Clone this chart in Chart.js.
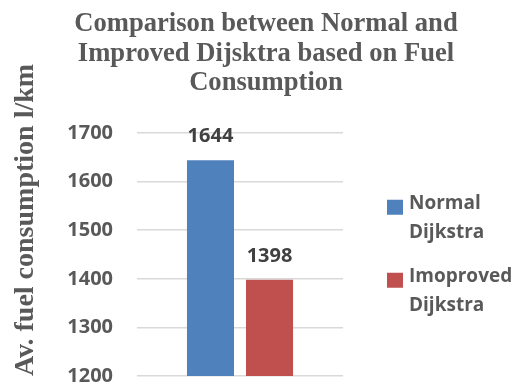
<!DOCTYPE html>
<html>
<head>
<meta charset="utf-8">
<script src="https://cdn.jsdelivr.net/npm/chart.js@4/dist/chart.umd.min.js"></script>
<style>
  html, body { margin: 0; padding: 0; background: #ffffff; }
  #wrap { width: 528px; height: 387px; }
</style>
</head>
<body>
<div id="wrap"><canvas id="c" width="528" height="387"></canvas></div>
<script>
// Chart data
const categories = [''];
const seriesNames = ['Normal Dijkstra', 'Imoproved Dijkstra'];
const normalValues = [1644];
const improvedValues = [1398];
const seriesColors = ['#4f81bd', '#c0504d'];
const titleLines = ['Comparison between Normal and', 'Improved Dijsktra based on Fuel', 'Consumption'];
const yAxisTitle = 'Av. fuel consumption l/km';
const yMin = 1200, yMax = 1700, yStep = 100;

const sansFont = "'Open Sans', 'Liberation Sans', sans-serif";
const serifFont = "'Liberation Serif', 'Times New Roman', serif";
const textGrey = '#595959';

// Title centred across the whole canvas, plus the rotated y-axis caption
const headings = {
  id: 'headings',
  afterDraw(chart) {
    const ctx = chart.ctx;
    ctx.save();
    ctx.font = "bold 26.6px " + serifFont;
    ctx.fillStyle = textGrey;
    ctx.textAlign = 'center';
    ctx.textBaseline = 'alphabetic';
    titleLines.forEach((line, i) => {
      ctx.fillText(line, 266, 31 + i * 29.5);
    });
    ctx.font = "bold 28px " + serifFont;
    ctx.translate(33, 220);
    ctx.rotate(-Math.PI / 2);
    ctx.fillText(yAxisTitle, 0, 0);
    ctx.restore();
  }
};

// Value labels above each bar
const valueLabels = {
  id: 'valueLabels',
  afterDatasetsDraw(chart) {
    const ctx = chart.ctx;
    ctx.save();
    ctx.font = "bold 20px " + sansFont;
    ctx.fillStyle = '#404040';
    ctx.textAlign = 'center';
    ctx.textBaseline = 'alphabetic';
    chart.data.datasets.forEach((ds, di) => {
      const meta = chart.getDatasetMeta(di);
      meta.data.forEach((bar, i) => {
        ctx.fillText(String(ds.data[i]), bar.x, bar.y - 18);
      });
    });
    ctx.restore();
  }
};

// Legend on the right, each name wrapped over two lines
const sideLegend = {
  id: 'sideLegend',
  afterDraw(chart) {
    const ctx = chart.ctx;
    const area = chart.chartArea;
    const x0 = area.right + 44;
    const itemGap = 73;
    const lineGap = 28.5;
    const n = chart.data.datasets.length;
    const mid = (area.top + area.bottom) / 2;
    const firstTop = mid - ((n - 1) * itemGap + lineGap + 16) / 2;
    ctx.save();
    ctx.font = "bold 19px " + sansFont;
    ctx.textAlign = 'left';
    ctx.textBaseline = 'middle';
    chart.data.datasets.forEach((ds, di) => {
      const top = firstTop + di * itemGap;
      ctx.fillStyle = ds.backgroundColor;
      ctx.fillRect(x0, top + 4, 16, 15);
      ctx.fillStyle = textGrey;
      const words = ds.label.split(' ');
      words.forEach((w, li) => {
        ctx.fillText(w, x0 + 22, top + 8 + li * lineGap);
      });
    });
    ctx.restore();
  }
};

new Chart(document.getElementById('c'), {
  type: 'bar',
  data: {
    labels: categories,
    datasets: [
      { label: seriesNames[0], data: normalValues, backgroundColor: seriesColors[0] },
      { label: seriesNames[1], data: improvedValues, backgroundColor: seriesColors[1] }
    ]
  },
  options: {
    responsive: false,
    animation: false,
    devicePixelRatio: 1,
    categoryPercentage: 0.573,
    barPercentage: 0.797,
    layout: { padding: { left: 0, right: 185, top: 133, bottom: 11 } },
    plugins: {
      legend: { display: false },
      tooltip: { enabled: false },
      title: { display: false }
    },
    scales: {
      x: {
        display: true,
        ticks: { display: false },
        grid: { display: false, drawTicks: false },
        border: { display: false },
        afterFit: (s) => { s.height = 0; }
      },
      y: {
        min: yMin,
        max: yMax,
        ticks: {
          stepSize: yStep,
          padding: 24,
          color: textGrey,
          font: { family: sansFont, size: 20, weight: 'bold' },
          callback: (v) => String(v)
        },
        grid: { color: '#d9d9d9', lineWidth: 1.5, drawTicks: false },
        border: { display: false },
        afterFit: (s) => {
          s.width = 137;
          s.paddingTop = 0;
          s.paddingBottom = 0;
        }
      }
    }
  },
  plugins: [headings, valueLabels, sideLegend]
});
</script>
</body>
</html>
